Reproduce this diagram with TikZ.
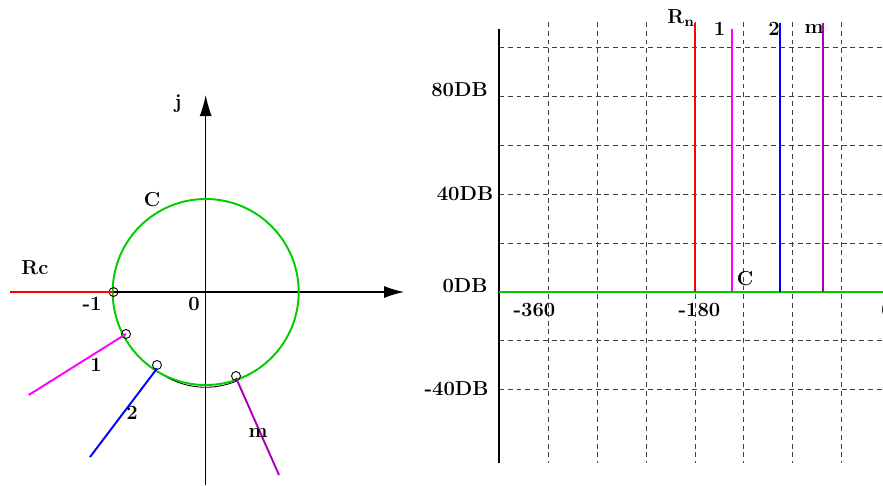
\documentclass[tikz,border=0pt]{standalone}
\usepackage{tikz}
\usetikzlibrary{arrows.meta}
\definecolor{nyqGreen}{RGB}{0,204,0}
\definecolor{nyqMagenta}{RGB}{255,0,255}
\definecolor{nyqPurple}{RGB}{170,0,187}

\begin{document}
\begin{tikzpicture}[x=0.02cm,y=-0.02cm,
        lbl/.style={font=\fontsize{11.5}{13}\selectfont\bfseries, inner sep=0pt},
        gridline/.style={black!75, line width=0.55pt, dash pattern=on 2.8pt off 2.2pt},
        branch/.style={line width=1.1pt},
        ring/.style={circle, draw, line width=0.5pt, minimum size=0.18cm, inner sep=0pt}]
        \useasboundingbox (0,0) rectangle (883,485);

        % 左图：复平面
        \draw[line width=0.6pt, -{Latex[length=0.4cm,width=0.24cm]}] (10,292) -- (404,292); % 实轴
        \draw[line width=0.6pt, -{Latex[length=0.42cm,width=0.24cm]}] (205.7,485) -- (205.7,95); % 虚轴
        \coordinate (O) at (205.7,292);

        % 绘制圆 C
        \draw[line width=0.5pt] ([shift={(120:93)}]O) arc[start angle=120, end angle=70, x radius=93, y radius=110];
        \draw[nyqGreen, line width=1.1pt] (O) circle (93);

        % 交点小圆
        \node[ring] (p0) at (113.5,292) {};
        \node[ring] (p1) at (126,334) {};
        \node[ring] (p2) at (157,365) {};
        \node[ring] (pm) at (236,376) {};

        % 各条射线
        \coordinate (r0) at (10,292);
        \coordinate (r1) at (28.7,395);
        \coordinate (r2) at (90,457);
        \coordinate (rm) at (279,475);
        \draw[red, branch] (r0) -- (p0.center);
        \draw[nyqMagenta, branch] (r1) -- (p1.center);
        \draw[blue, branch] (r2) -- ([yshift=-2]p2.center);
        \draw[nyqPurple, branch] (rm) -- ([yshift=-1]pm.center);

        % 添加标签
        \node[lbl] (lj) at (178,104) {j};
        \node[lbl] (lC) at (152,200) {C};
        \node[lbl] (lRc) at (35,268) {Rc};
        \node[lbl] (lm1) at (92,304) {-1};
        \node[lbl] (lO) at (194,304) {0};
        \node[lbl] (l1) at (96,365) {1};
        \node[lbl] (l2) at (132,413) {2};
        \node[lbl] (lm) at (258,433) {m};

        % 右图：对数幅相图
        \foreach \i in {-3,...,3}
            \draw[gridline] (695+48.9*\i,22) -- (695+48.9*\i,463);
        \foreach \j in {-5,-4,-3,-2,-1,1,2}
            \draw[gridline] (499,292+48.9*\j) -- (883,292+48.9*\j);
        \draw[line width=0.6pt] (499,29) -- (499,463); % 纵轴
        \draw[nyqGreen, line width=1.3pt] (499,292) -- (883,292); % 0DB 线

        \draw[red, branch] (695,23) -- (695,292);
        \draw[nyqMagenta, branch] (732,29) -- (732,292);
        \draw[blue, branch] (780,23) -- (780,292);
        \draw[nyqPurple, branch] (823,23) -- (823,292);

        \node[lbl] (lRn) at (681,18) {R$_{\mathbf{n}}$};
        \node[lbl] (t1) at (719.5,29) {1};
        \node[lbl] (t2) at (774,29) {2};
        \node[lbl] (tm) at (814,29) {m};
        \node[lbl] (tC) at (745,279) {C};

        \node[lbl] (d80) at (459.5,90) {80DB};
        \node[lbl] (d40) at (465,194) {40DB};
        \node[lbl] (d0) at (465,286) {0DB};
        \node[lbl] (dm40) at (456.5,389) {-40DB};

        \node[lbl] (a360) at (534.5,310) {-360};
        \node[lbl] (a180) at (699.5,310) {-180};
        \node[lbl] (a0) at (887,310) {0};
    \end{tikzpicture}
\end{document}
